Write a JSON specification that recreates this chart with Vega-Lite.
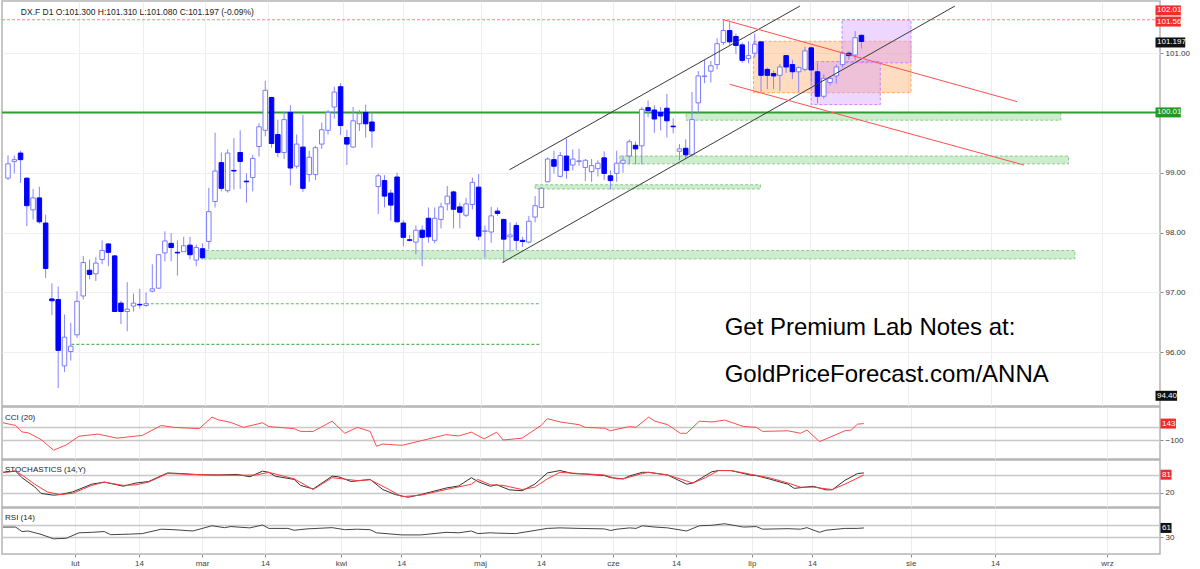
{
 "$schema": "https://vega.github.io/schema/vega-lite/v6.json",
 "padding": 0,
 "background": "white",
 "spacing": 1,
 "bounds": "flush",
 "config": {
  "view": {"stroke": "#b4b4b4", "strokeWidth": 1.5},
  "font": "Liberation Sans",
  "axis": {"labelFont": "Liberation Sans", "labelFontSize": 8, "labelColor": "#333333", "tickColor": "#888888", "tickSize": 3, "domain": false, "title": null}
 },
 "datasets": {
  "candles": [
   {"k":0,"o":98.91,"h":99.29,"l":98.88,"c":99.15},{"k":1,"o":99.19,"h":99.29,"l":98.99,"c":99.22},{"k":2,"o":99.33,"h":99.37,"l":98.83,"c":99.22},{"k":3,"o":98.91,"h":98.92,"l":98.11,"c":98.45},{"k":4,"o":98.38,"h":98.73,"l":98.22,"c":98.58},{"k":5,"o":98.58,"h":98.77,"l":98.15,"c":98.18},{"k":6,"o":98.16,"h":98.30,"l":97.24,"c":97.40},{"k":7,"o":96.89,"h":97.15,"l":96.62,"c":96.86},{"k":8,"o":96.88,"h":97.10,"l":95.40,"c":96.03},{"k":9,"o":95.77,"h":96.63,"l":95.67,"c":96.25},
   {"k":10,"o":96.01,"h":96.49,"l":95.86,"c":96.10},{"k":11,"o":96.29,"h":97.02,"l":96.24,"c":96.85},{"k":12,"o":96.94,"h":97.61,"l":96.88,"c":97.50},{"k":13,"o":97.37,"h":97.55,"l":97.22,"c":97.30},{"k":14,"o":97.31,"h":97.59,"l":97.19,"c":97.49},{"k":15,"o":97.55,"h":97.87,"l":97.47,"c":97.70},{"k":16,"o":97.81,"h":97.82,"l":97.44,"c":97.67},{"k":17,"o":97.61,"h":97.62,"l":96.67,"c":96.68},{"k":18,"o":96.82,"h":96.86,"l":96.47,"c":96.68},{"k":19,"o":96.68,"h":97.17,"l":96.35,"c":96.72},
   {"k":20,"o":96.77,"h":96.98,"l":96.68,"c":96.82},{"k":21,"o":96.80,"h":97.06,"l":96.73,"c":96.79},{"k":22,"o":96.78,"h":97.00,"l":96.76,"c":96.81},{"k":23,"o":97.02,"h":97.47,"l":97.00,"c":97.06},{"k":24,"o":97.07,"h":97.63,"l":97.06,"c":97.63},{"k":25,"o":97.66,"h":98.02,"l":97.52,"c":97.86},{"k":26,"o":97.82,"h":97.99,"l":97.52,"c":97.75},{"k":27,"o":97.67,"h":97.87,"l":97.28,"c":97.66},{"k":28,"o":97.68,"h":97.93,"l":97.68,"c":97.78},{"k":29,"o":97.79,"h":97.93,"l":97.55,"c":97.63},
   {"k":30,"o":97.54,"h":97.80,"l":97.44,"c":97.75},{"k":31,"o":97.73,"h":97.82,"l":97.55,"c":97.58},{"k":32,"o":97.85,"h":98.75,"l":97.72,"c":98.35},{"k":33,"o":98.52,"h":99.67,"l":98.42,"c":99.03},{"k":34,"o":99.17,"h":99.34,"l":98.69,"c":98.74},{"k":35,"o":98.70,"h":99.39,"l":98.67,"c":99.33},{"k":36,"o":99.04,"h":99.58,"l":98.72,"c":99.03},{"k":37,"o":99.34,"h":99.71,"l":98.73,"c":99.19},{"k":38,"o":98.86,"h":98.99,"l":98.50,"c":98.85},{"k":39,"o":98.92,"h":99.30,"l":98.69,"c":99.24},
   {"k":40,"o":99.44,"h":99.83,"l":99.27,"c":99.77},{"k":41,"o":99.71,"h":100.54,"l":99.61,"c":100.38},{"k":42,"o":100.26,"h":100.27,"l":99.42,"c":99.49},{"k":43,"o":99.64,"h":99.89,"l":99.26,"c":99.34},{"k":44,"o":99.34,"h":100.02,"l":99.23,"c":99.89},{"k":45,"o":100.01,"h":100.13,"l":98.79,"c":99.08},{"k":46,"o":99.11,"h":99.64,"l":99.07,"c":99.48},{"k":47,"o":99.43,"h":99.97,"l":98.68,"c":98.74},{"k":48,"o":98.97,"h":99.37,"l":98.85,"c":99.26},{"k":49,"o":98.97,"h":99.45,"l":98.88,"c":99.42},
   {"k":50,"o":99.48,"h":99.84,"l":99.40,"c":99.72},{"k":51,"o":99.71,"h":100.05,"l":99.64,"c":100.01},{"k":52,"o":100.10,"h":100.44,"l":99.91,"c":100.35},{"k":53,"o":100.44,"h":100.50,"l":99.63,"c":99.79},{"k":54,"o":99.59,"h":99.72,"l":99.13,"c":99.48},{"k":55,"o":99.43,"h":100.10,"l":99.42,"c":99.87},{"k":56,"o":99.82,"h":100.05,"l":99.70,"c":99.99},{"k":57,"o":100.01,"h":100.14,"l":99.59,"c":99.82},{"k":58,"o":99.85,"h":100.01,"l":99.42,"c":99.70},{"k":59,"o":98.77,"h":98.99,"l":98.31,"c":98.95},
   {"k":60,"o":98.87,"h":98.96,"l":98.42,"c":98.61},{"k":61,"o":98.66,"h":98.72,"l":98.20,"c":98.46},{"k":62,"o":98.93,"h":99.00,"l":98.17,"c":98.18},{"k":63,"o":98.16,"h":98.21,"l":97.77,"c":97.92},{"k":64,"o":97.88,"h":97.96,"l":97.85,"c":97.87},{"k":65,"o":97.84,"h":98.12,"l":97.64,"c":98.04},{"k":66,"o":98.04,"h":98.12,"l":97.44,"c":97.92},{"k":67,"o":98.24,"h":98.42,"l":97.83,"c":97.93},{"k":68,"o":97.87,"h":98.42,"l":97.82,"c":98.24},{"k":69,"o":98.22,"h":98.50,"l":98.07,"c":98.43},
   {"k":70,"o":98.48,"h":98.78,"l":98.37,"c":98.61},{"k":71,"o":98.68,"h":98.70,"l":98.07,"c":98.39},{"k":72,"o":98.43,"h":98.50,"l":98.07,"c":98.34},{"k":73,"o":98.29,"h":98.58,"l":98.26,"c":98.48},{"k":74,"o":98.47,"h":98.92,"l":98.39,"c":98.84},{"k":75,"o":98.76,"h":98.98,"l":97.87,"c":97.94},{"k":76,"o":98.02,"h":98.12,"l":97.58,"c":98.03},{"k":77,"o":98.01,"h":98.43,"l":97.83,"c":98.28},{"k":78,"o":98.36,"h":98.42,"l":98.28,"c":98.32},{"k":79,"o":98.22,"h":98.23,"l":97.49,"c":97.89},
   {"k":80,"o":97.93,"h":98.17,"l":97.68,"c":97.96},{"k":81,"o":98.12,"h":98.17,"l":97.71,"c":97.87},{"k":82,"o":97.87,"h":97.93,"l":97.76,"c":97.85},{"k":83,"o":97.84,"h":98.28,"l":97.82,"c":98.19},{"k":84,"o":98.26,"h":98.61,"l":98.17,"c":98.45},{"k":85,"o":98.42,"h":98.76,"l":98.41,"c":98.74},{"k":86,"o":98.85,"h":99.26,"l":98.84,"c":99.23},{"k":87,"o":99.22,"h":99.37,"l":98.99,"c":99.11},{"k":88,"o":98.94,"h":99.35,"l":98.92,"c":99.29},{"k":89,"o":99.28,"h":99.57,"l":98.90,"c":99.04},
   {"k":90,"o":99.13,"h":99.39,"l":99.04,"c":99.23},{"k":91,"o":99.19,"h":99.40,"l":99.12,"c":99.20},{"k":92,"o":99.09,"h":99.23,"l":98.86,"c":99.21},{"k":93,"o":99.02,"h":99.23,"l":98.85,"c":99.12},{"k":94,"o":99.07,"h":99.21,"l":98.94,"c":99.16},{"k":95,"o":99.25,"h":99.36,"l":98.88,"c":98.99},{"k":96,"o":98.95,"h":99.04,"l":98.72,"c":98.87},{"k":97,"o":98.99,"h":99.37,"l":98.85,"c":99.16},{"k":98,"o":99.16,"h":99.29,"l":99.00,"c":99.21},{"k":99,"o":99.28,"h":99.56,"l":99.14,"c":99.52},
   {"k":100,"o":99.46,"h":99.52,"l":99.14,"c":99.40},{"k":101,"o":99.45,"h":100.10,"l":99.14,"c":100.06},{"k":102,"o":100.09,"h":100.21,"l":99.93,"c":100.04},{"k":103,"o":100.05,"h":100.13,"l":99.67,"c":99.90},{"k":104,"o":100.01,"h":100.10,"l":99.71,"c":99.95},{"k":105,"o":100.08,"h":100.32,"l":99.59,"c":99.87},{"k":106,"o":99.78,"h":99.91,"l":99.66,"c":99.77},{"k":107,"o":99.36,"h":99.48,"l":99.21,"c":99.40},{"k":108,"o":99.41,"h":99.56,"l":99.23,"c":99.30},{"k":109,"o":99.30,"h":100.35,"l":99.29,"c":99.89},
   {"k":110,"o":100.17,"h":100.70,"l":99.99,"c":100.62},{"k":111,"o":100.61,"h":100.89,"l":100.50,"c":100.62},{"k":112,"o":100.70,"h":100.87,"l":100.51,"c":100.79},{"k":113,"o":100.81,"h":101.25,"l":100.73,"c":101.16},{"k":114,"o":101.18,"h":101.56,"l":101.14,"c":101.38},{"k":115,"o":101.38,"h":101.52,"l":101.14,"c":101.19},{"k":116,"o":101.28,"h":101.33,"l":100.99,"c":101.13},{"k":117,"o":101.14,"h":101.18,"l":100.84,"c":100.88},{"k":118,"o":100.91,"h":101.20,"l":100.83,"c":100.96},{"k":119,"o":101.00,"h":101.33,"l":100.93,"c":101.15},
   {"k":120,"o":101.19,"h":101.20,"l":100.35,"c":100.63},{"k":121,"o":100.73,"h":100.76,"l":100.40,"c":100.63},{"k":122,"o":100.66,"h":100.71,"l":100.40,"c":100.62},{"k":123,"o":100.63,"h":100.82,"l":100.37,"c":100.77},{"k":124,"o":100.96,"h":100.97,"l":100.67,"c":100.77},{"k":125,"o":100.81,"h":100.89,"l":100.57,"c":100.69},{"k":126,"o":100.69,"h":100.78,"l":100.35,"c":100.76},{"k":127,"o":100.73,"h":101.11,"l":100.70,"c":101.04},{"k":128,"o":101.09,"h":101.11,"l":100.51,"c":100.72},{"k":129,"o":100.69,"h":100.84,"l":100.16,"c":100.28},
   {"k":130,"o":100.28,"h":100.65,"l":100.24,"c":100.58},{"k":131,"o":100.51,"h":100.62,"l":100.46,"c":100.58},{"k":132,"o":100.62,"h":100.81,"l":100.49,"c":100.77},{"k":133,"o":100.81,"h":101.03,"l":100.76,"c":101.00},{"k":134,"o":101.00,"h":101.03,"l":100.89,"c":100.96},{"k":135,"o":100.97,"h":101.37,"l":100.88,"c":101.26},{"k":136,"o":101.30,"h":101.31,"l":101.08,"c":101.197}
  ],
  "zones": [
   {"start":108.06,"end":167.77,"top":100.01,"bottom":99.88},
   {"start":97.5,"end":169.0,"top":99.28,"bottom":99.15},
   {"start":84.0,"end":119.9,"top":98.80,"bottom":98.73},
   {"start":30.8,"end":170.0,"top":97.70,"bottom":97.56}
  ],
  "glines": [
   {"start":21.96,"end":84.8,"p":96.81},
   {"start":10.1,"end":84.8,"p":96.13}
  ],
  "orange": [{"start":118.8,"end":143.9,"top":101.20,"bottom":100.34}],
  "purple": [
   {"start":132.9,"end":143.9,"top":101.56,"bottom":100.84},
   {"start":128.0,"end":139.0,"top":100.86,"bottom":100.14}
  ],
  "blines": [
   {"id":"b1","k":79.9,"p":99.05},{"id":"b1","k":126.2,"p":101.79},
   {"id":"b2","k":78.8,"p":97.50},{"id":"b2","k":150.9,"p":101.79}
  ],
  "rlines": [
   {"id":"r1","k":114.06,"p":101.56},{"id":"r1","k":160.8,"p":100.19},
   {"id":"r2","k":115.0,"p":100.48},{"id":"r2","k":161.9,"p":99.13}
  ],
  "cci": [
   {"k":0,"v":155},{"k":2,"v":115},{"k":3,"v":21},{"k":4,"v":9},{"k":6,"v":-88},{"k":8,"v":-245},{"k":10,"v":-167},{"k":12,"v":-41},{"k":15,"v":-10},{"k":18,"v":-69},{"k":22,"v":-29},{"k":25,"v":115},{"k":27,"v":88},{"k":31,"v":69},{"k":33,"v":237},{"k":34,"v":198},{"k":36,"v":159},{"k":38,"v":88},{"k":41,"v":155},{"k":42,"v":100},{"k":46,"v":69},{"k":47,"v":29},{"k":49,"v":29},{"k":52,"v":178},{"k":54,"v":2},{"k":56,"v":88},{"k":58,"v":29},{"k":59,"v":-186},{"k":60,"v":-155},{"k":63,"v":-174},{"k":66,"v":-108},{"k":70,"v":-18},{"k":72,"v":-37},{"k":74,"v":18},{"k":76,"v":-80},{"k":78,"v":18},{"k":79,"v":-96},{"k":82,"v":-69},{"k":85,"v":115},{"k":86,"v":214},{"k":88,"v":167},{"k":91,"v":127},{"k":92,"v":88},{"k":95,"v":76},{"k":96,"v":38},{"k":97,"v":61},{"k":99,"v":100},{"k":100,"v":88},{"k":102,"v":237},{"k":103,"v":178},{"k":105,"v":127},{"k":107,"v":2},{"k":108,"v":2},{"k":110,"v":178},{"k":112,"v":167},{"k":114,"v":194},{"k":117,"v":100},{"k":119,"v":88},{"k":120,"v":29},{"k":124,"v":38},{"k":126,"v":2},{"k":127,"v":49},{"k":129,"v":-120},{"k":131,"v":-41},{"k":133,"v":38},{"k":134,"v":49},{"k":135,"v":135},{"k":136,"v":143}
  ],
  "stk": [
   {"k":0,"v":89},{"k":2,"v":93},{"k":3,"v":71},{"k":5,"v":40},{"k":6,"v":18},{"k":8,"v":12},{"k":9,"v":14},{"k":11,"v":23},{"k":14,"v":49},{"k":16,"v":56},{"k":18,"v":47},{"k":19,"v":42},{"k":21,"v":53},{"k":23,"v":58},{"k":26,"v":87},{"k":28,"v":85},{"k":31,"v":81},{"k":34,"v":80},{"k":37,"v":82},{"k":39,"v":74},{"k":41,"v":93},{"k":42,"v":89},{"k":43,"v":76},{"k":46,"v":65},{"k":47,"v":45},{"k":49,"v":33},{"k":52,"v":76},{"k":53,"v":74},{"k":55,"v":58},{"k":58,"v":65},{"k":60,"v":31},{"k":62,"v":14},{"k":64,"v":5},{"k":66,"v":14},{"k":70,"v":36},{"k":72,"v":43},{"k":74,"v":71},{"k":75,"v":58},{"k":77,"v":42},{"k":78,"v":47},{"k":80,"v":30},{"k":82,"v":27},{"k":84,"v":49},{"k":86,"v":87},{"k":88,"v":95},{"k":90,"v":85},{"k":92,"v":83},{"k":95,"v":78},{"k":96,"v":71},{"k":98,"v":67},{"k":99,"v":77},{"k":101,"v":89},{"k":102,"v":89},{"k":105,"v":80},{"k":108,"v":49},{"k":109,"v":53},{"k":112,"v":91},{"k":113,"v":95},{"k":115,"v":95},{"k":118,"v":80},{"k":119,"v":78},{"k":121,"v":67},{"k":124,"v":49},{"k":125,"v":35},{"k":128,"v":42},{"k":130,"v":30},{"k":131,"v":30},{"k":133,"v":62},{"k":135,"v":85},{"k":136,"v":87}
  ],
  "std": [
   {"k":0,"v":89},{"k":2,"v":93},{"k":3,"v":80},{"k":5,"v":49},{"k":7,"v":23},{"k":9,"v":14},{"k":11,"v":18},{"k":14,"v":45},{"k":16,"v":56},{"k":19,"v":45},{"k":21,"v":47},{"k":23,"v":56},{"k":26,"v":85},{"k":31,"v":81},{"k":37,"v":79},{"k":40,"v":80},{"k":42,"v":89},{"k":46,"v":67},{"k":49,"v":31},{"k":52,"v":71},{"k":56,"v":61},{"k":58,"v":64},{"k":61,"v":31},{"k":63,"v":7},{"k":66,"v":12},{"k":70,"v":31},{"k":74,"v":49},{"k":75,"v":65},{"k":77,"v":47},{"k":79,"v":45},{"k":82,"v":31},{"k":84,"v":39},{"k":86,"v":67},{"k":88,"v":89},{"k":91,"v":85},{"k":95,"v":80},{"k":97,"v":67},{"k":98,"v":67},{"k":101,"v":85},{"k":102,"v":89},{"k":105,"v":80},{"k":109,"v":53},{"k":111,"v":71},{"k":113,"v":95},{"k":115,"v":95},{"k":118,"v":83},{"k":121,"v":71},{"k":124,"v":53},{"k":126,"v":39},{"k":128,"v":39},{"k":131,"v":31},{"k":133,"v":49},{"k":136,"v":80}
  ],
  "rsi": [
   {"k":0,"v":63.9},{"k":2,"v":63.9},{"k":3,"v":48.7},{"k":4,"v":50.5},{"k":6,"v":39},{"k":8,"v":23.9},{"k":10,"v":25.7},{"k":12,"v":44.4},{"k":14,"v":46},{"k":16,"v":48.7},{"k":17,"v":38},{"k":20,"v":39.9},{"k":22,"v":41.7},{"k":25,"v":56.7},{"k":27,"v":55},{"k":30,"v":50.5},{"k":33,"v":68.4},{"k":35,"v":62},{"k":36,"v":65.7},{"k":39,"v":61.2},{"k":41,"v":71},{"k":42,"v":59.4},{"k":45,"v":59.4},{"k":46,"v":53.1},{"k":48,"v":57.7},{"k":52,"v":62},{"k":54,"v":55},{"k":56,"v":56.7},{"k":58,"v":55},{"k":59,"v":44.4},{"k":63,"v":37.2},{"k":66,"v":37.2},{"k":70,"v":46},{"k":72,"v":44.4},{"k":74,"v":50.5},{"k":75,"v":41.7},{"k":77,"v":44.4},{"k":78,"v":43.3},{"k":81,"v":41.7},{"k":86,"v":59.4},{"k":88,"v":61.2},{"k":91,"v":59.4},{"k":95,"v":57.7},{"k":96,"v":52.4},{"k":97,"v":56.7},{"k":99,"v":61.2},{"k":100,"v":59.4},{"k":101,"v":68.4},{"k":103,"v":64},{"k":105,"v":61.2},{"k":108,"v":50.5},{"k":110,"v":68.4},{"k":112,"v":70},{"k":114,"v":75.3},{"k":117,"v":63.9},{"k":119,"v":65.7},{"k":120,"v":56.7},{"k":124,"v":58.5},{"k":126,"v":56.7},{"k":127,"v":62},{"k":129,"v":46},{"k":130,"v":53.1},{"k":133,"v":59.4},{"k":135,"v":59.4},{"k":136,"v":61}
  ]
 },
 "vconcat": [
  {
   "width": 1158,
   "height": 405,
   "layer": [
    {
     "data": {"name": "zones"},
     "mark": {"type": "rect", "fill": "#c9eac9", "fillOpacity": 0.9, "stroke": "#8bcb8b", "strokeDash": [3, 2], "strokeWidth": 1},
     "encoding": {
      "x": {"field": "start", "type": "quantitative", "scale": {"domain": [-0.158, 182.78], "nice": false, "zero": false}, "axis": {"values": [11.37,21.48,31.44,41.39,53.4,62.9,75.36,85.0,96.37,106.3,118.3,127.8,143.4,156.7,174.4], "grid": true, "gridColor": "#ededed", "labels": false, "ticks": false, "domain": false, "minExtent": 0, "maxExtent": 0}},
      "x2": {"field": "end"},
      "y": {"field": "top", "type": "quantitative", "scale": {"domain": [95.183, 101.79], "nice": false, "zero": false}, "axis": {"orient": "right", "values": [96, 97, 98, 99, 101], "format": ".2f", "grid": true, "gridColor": "#efefef", "tickSize": 3, "labelPadding": 2}},
      "y2": {"field": "bottom"}
     }
    },
    {
     "data": {"name": "glines"},
     "mark": {"type": "rule", "color": "#5cb85c", "strokeDash": [3, 2], "strokeWidth": 1.2},
     "encoding": {
      "x": {"field": "start", "type": "quantitative", "scale": {"domain": [-0.158, 182.78], "nice": false, "zero": false}, "axis": {"values": [11.37,21.48,31.44,41.39,53.4,62.9,75.36,85.0,96.37,106.3,118.3,127.8,143.4,156.7,174.4], "grid": true, "gridColor": "#ededed", "labels": false, "ticks": false, "domain": false, "minExtent": 0, "maxExtent": 0}},
      "x2": {"field": "end"},
      "y": {"field": "p", "type": "quantitative", "scale": {"domain": [95.183, 101.79], "nice": false, "zero": false}, "axis": {"orient": "right", "values": [96, 97, 98, 99, 101], "format": ".2f", "grid": true, "gridColor": "#efefef", "tickSize": 3, "labelPadding": 2}}
     }
    },
    {
     "data": {"name": "orange"},
     "mark": {"type": "rect", "fill": "#ffb070", "fillOpacity": 0.45, "stroke": "#ff9a40", "strokeDash": [3, 2], "strokeWidth": 1, "strokeOpacity": 0.8},
     "encoding": {
      "x": {"field": "start", "type": "quantitative", "scale": {"domain": [-0.158, 182.78], "nice": false, "zero": false}, "axis": {"values": [11.37,21.48,31.44,41.39,53.4,62.9,75.36,85.0,96.37,106.3,118.3,127.8,143.4,156.7,174.4], "grid": true, "gridColor": "#ededed", "labels": false, "ticks": false, "domain": false, "minExtent": 0, "maxExtent": 0}},
      "x2": {"field": "end"},
      "y": {"field": "top", "type": "quantitative", "scale": {"domain": [95.183, 101.79], "nice": false, "zero": false}, "axis": {"orient": "right", "values": [96, 97, 98, 99, 101], "format": ".2f", "grid": true, "gridColor": "#efefef", "tickSize": 3, "labelPadding": 2}},
      "y2": {"field": "bottom"}
     }
    },
    {
     "data": {"name": "purple"},
     "mark": {"type": "rect", "fill": "#d49cff", "fillOpacity": 0.4, "stroke": "#b870ff", "strokeDash": [3, 2], "strokeWidth": 1, "strokeOpacity": 0.8},
     "encoding": {
      "x": {"field": "start", "type": "quantitative", "scale": {"domain": [-0.158, 182.78], "nice": false, "zero": false}, "axis": {"values": [11.37,21.48,31.44,41.39,53.4,62.9,75.36,85.0,96.37,106.3,118.3,127.8,143.4,156.7,174.4], "grid": true, "gridColor": "#ededed", "labels": false, "ticks": false, "domain": false, "minExtent": 0, "maxExtent": 0}},
      "x2": {"field": "end"},
      "y": {"field": "top", "type": "quantitative", "scale": {"domain": [95.183, 101.79], "nice": false, "zero": false}, "axis": {"orient": "right", "values": [96, 97, 98, 99, 101], "format": ".2f", "grid": true, "gridColor": "#efefef", "tickSize": 3, "labelPadding": 2}},
      "y2": {"field": "bottom"}
     }
    },
    {
     "data": {"values": [{"p": 101.56}]},
     "mark": {"type": "rule", "color": "#ff8080", "strokeDash": [3, 2], "strokeWidth": 1},
     "encoding": {"y": {"field": "p", "type": "quantitative", "scale": {"domain": [95.183, 101.79], "nice": false, "zero": false}, "axis": {"orient": "right", "values": [96, 97, 98, 99, 101], "format": ".2f", "grid": true, "gridColor": "#efefef", "tickSize": 3, "labelPadding": 2}}}
    },
    {
     "data": {"values": [{"p": 100.01}]},
     "mark": {"type": "rule", "color": "#2e9e2e", "strokeWidth": 2},
     "encoding": {"y": {"field": "p", "type": "quantitative", "scale": {"domain": [95.183, 101.79], "nice": false, "zero": false}, "axis": {"orient": "right", "values": [96, 97, 98, 99, 101], "format": ".2f", "grid": true, "gridColor": "#efefef", "tickSize": 3, "labelPadding": 2}}}
    },
    {
     "data": {"name": "candles"},
     "mark": {"type": "rule", "color": "#8585ff", "strokeWidth": 1},
     "encoding": {
      "x": {"field": "k", "type": "quantitative", "scale": {"domain": [-0.158, 182.78], "nice": false, "zero": false}, "axis": {"values": [11.37,21.48,31.44,41.39,53.4,62.9,75.36,85.0,96.37,106.3,118.3,127.8,143.4,156.7,174.4], "grid": true, "gridColor": "#ededed", "labels": false, "ticks": false, "domain": false, "minExtent": 0, "maxExtent": 0}},
      "y": {"field": "l", "type": "quantitative", "scale": {"domain": [95.183, 101.79], "nice": false, "zero": false}, "axis": {"orient": "right", "values": [96, 97, 98, 99, 101], "format": ".2f", "grid": true, "gridColor": "#efefef", "tickSize": 3, "labelPadding": 2}},
      "y2": {"field": "h"}
     }
    },
    {
     "data": {"name": "candles"},
     "mark": {"type": "bar", "size": 4.5, "strokeWidth": 1},
     "encoding": {
      "x": {"field": "k", "type": "quantitative", "scale": {"domain": [-0.158, 182.78], "nice": false, "zero": false}, "axis": {"values": [11.37,21.48,31.44,41.39,53.4,62.9,75.36,85.0,96.37,106.3,118.3,127.8,143.4,156.7,174.4], "grid": true, "gridColor": "#ededed", "labels": false, "ticks": false, "domain": false, "minExtent": 0, "maxExtent": 0}},
      "y": {"field": "o", "type": "quantitative", "scale": {"domain": [95.183, 101.79], "nice": false, "zero": false}, "axis": {"orient": "right", "values": [96, 97, 98, 99, 101], "format": ".2f", "grid": true, "gridColor": "#efefef", "tickSize": 3, "labelPadding": 2}},
      "y2": {"field": "c"},
      "fill": {"condition": {"test": "datum.c < datum.o", "value": "#0000ff"}, "value": "#ffffff"},
      "stroke": {"condition": {"test": "datum.c < datum.o", "value": "#0000ff"}, "value": "#7b7bff"}
     }
    },
    {
     "data": {"name": "blines"},
     "mark": {"type": "line", "color": "#3a3a3a", "strokeWidth": 1, "clip": true},
     "encoding": {
      "x": {"field": "k", "type": "quantitative", "scale": {"domain": [-0.158, 182.78], "nice": false, "zero": false}, "axis": {"values": [11.37,21.48,31.44,41.39,53.4,62.9,75.36,85.0,96.37,106.3,118.3,127.8,143.4,156.7,174.4], "grid": true, "gridColor": "#ededed", "labels": false, "ticks": false, "domain": false, "minExtent": 0, "maxExtent": 0}},
      "y": {"field": "p", "type": "quantitative", "scale": {"domain": [95.183, 101.79], "nice": false, "zero": false}, "axis": {"orient": "right", "values": [96, 97, 98, 99, 101], "format": ".2f", "grid": true, "gridColor": "#efefef", "tickSize": 3, "labelPadding": 2}},
      "detail": {"field": "id"}
     }
    },
    {
     "data": {"name": "rlines"},
     "mark": {"type": "line", "color": "#ff5050", "strokeWidth": 1, "clip": true},
     "encoding": {
      "x": {"field": "k", "type": "quantitative", "scale": {"domain": [-0.158, 182.78], "nice": false, "zero": false}, "axis": {"values": [11.37,21.48,31.44,41.39,53.4,62.9,75.36,85.0,96.37,106.3,118.3,127.8,143.4,156.7,174.4], "grid": true, "gridColor": "#ededed", "labels": false, "ticks": false, "domain": false, "minExtent": 0, "maxExtent": 0}},
      "y": {"field": "p", "type": "quantitative", "scale": {"domain": [95.183, 101.79], "nice": false, "zero": false}, "axis": {"orient": "right", "values": [96, 97, 98, 99, 101], "format": ".2f", "grid": true, "gridColor": "#efefef", "tickSize": 3, "labelPadding": 2}},
      "detail": {"field": "id"}
     }
    },
    {
     "data": {"values": [
      {"k": 2.05, "p": 101.69, "t": "DX.F  D1  O:101.300  H:101.310  L:101.080  C:101.197  (-0.09%)"}
     ]},
     "mark": {"type": "text", "align": "left", "baseline": "middle", "fontSize": 8.5, "color": "#222222"},
     "encoding": {
      "x": {"field": "k", "type": "quantitative", "scale": {"domain": [-0.158, 182.78], "nice": false, "zero": false}, "axis": {"values": [11.37,21.48,31.44,41.39,53.4,62.9,75.36,85.0,96.37,106.3,118.3,127.8,143.4,156.7,174.4], "grid": true, "gridColor": "#ededed", "labels": false, "ticks": false, "domain": false, "minExtent": 0, "maxExtent": 0}},
      "y": {"field": "p", "type": "quantitative", "scale": {"domain": [95.183, 101.79], "nice": false, "zero": false}, "axis": {"orient": "right", "values": [96, 97, 98, 99, 101], "format": ".2f", "grid": true, "gridColor": "#efefef", "tickSize": 3, "labelPadding": 2}},
      "text": {"field": "t"}
     }
    },
    {
     "data": {"values": [
      {"k": 114.2, "p": 96.406, "t": "Get Premium Lab Notes at:"},
      {"k": 114.2, "p": 95.62, "t": "GoldPriceForecast.com/ANNA"}
     ]},
     "mark": {"type": "text", "align": "left", "baseline": "middle", "fontSize": 24, "color": "#000000"},
     "encoding": {
      "x": {"field": "k", "type": "quantitative", "scale": {"domain": [-0.158, 182.78], "nice": false, "zero": false}, "axis": {"values": [11.37,21.48,31.44,41.39,53.4,62.9,75.36,85.0,96.37,106.3,118.3,127.8,143.4,156.7,174.4], "grid": true, "gridColor": "#ededed", "labels": false, "ticks": false, "domain": false, "minExtent": 0, "maxExtent": 0}},
      "y": {"field": "p", "type": "quantitative", "scale": {"domain": [95.183, 101.79], "nice": false, "zero": false}, "axis": {"orient": "right", "values": [96, 97, 98, 99, 101], "format": ".2f", "grid": true, "gridColor": "#efefef", "tickSize": 3, "labelPadding": 2}},
      "text": {"field": "t"}
     }
    },
    {
     "data": {"values": [
      {"p": 101.716, "label": "102.01", "kind": "red", "s": 182.86, "e": 186.9},
      {"p": 101.53, "label": "101.56", "kind": "red", "s": 182.86, "e": 186.9},
      {"p": 101.18, "label": "101.197", "kind": "black", "s": 182.86, "e": 187.6},
      {"p": 100.01, "label": "100.01", "kind": "green", "s": 182.86, "e": 186.9},
      {"p": 95.27, "label": "94.40", "kind": "black", "s": 182.86, "e": 186.3}
     ]},
     "mark": {"type": "bar", "orient": "horizontal", "size": 10},
     "encoding": {
      "x": {"field": "s", "type": "quantitative", "scale": {"domain": [-0.158, 182.78], "nice": false, "zero": false}, "axis": {"values": [11.37,21.48,31.44,41.39,53.4,62.9,75.36,85.0,96.37,106.3,118.3,127.8,143.4,156.7,174.4], "grid": true, "gridColor": "#ededed", "labels": false, "ticks": false, "domain": false, "minExtent": 0, "maxExtent": 0}},
      "x2": {"field": "e"},
      "y": {"field": "p", "type": "quantitative", "scale": {"domain": [95.183, 101.79], "nice": false, "zero": false}, "axis": {"orient": "right", "values": [96, 97, 98, 99, 101], "format": ".2f", "grid": true, "gridColor": "#efefef", "tickSize": 3, "labelPadding": 2}},
      "color": {"field": "kind", "type": "nominal", "scale": {"domain": ["red", "black", "green"], "range": ["#f22b2b", "#111111", "#1f9a1f"]}, "legend": null}
     }
    },
    {
     "data": {"values": [
      {"p": 101.716, "label": "102.01", "s": 182.86},
      {"p": 101.53, "label": "101.56", "s": 182.86},
      {"p": 101.18, "label": "101.197", "s": 182.86},
      {"p": 100.01, "label": "100.01", "s": 182.86},
      {"p": 95.27, "label": "94.40", "s": 182.86}
     ]},
     "mark": {"type": "text", "align": "left", "baseline": "middle", "fontSize": 8, "color": "#ffffff", "dx": 1.5},
     "encoding": {
      "x": {"field": "s", "type": "quantitative", "scale": {"domain": [-0.158, 182.78], "nice": false, "zero": false}, "axis": {"values": [11.37,21.48,31.44,41.39,53.4,62.9,75.36,85.0,96.37,106.3,118.3,127.8,143.4,156.7,174.4], "grid": true, "gridColor": "#ededed", "labels": false, "ticks": false, "domain": false, "minExtent": 0, "maxExtent": 0}},
      "y": {"field": "p", "type": "quantitative", "scale": {"domain": [95.183, 101.79], "nice": false, "zero": false}, "axis": {"orient": "right", "values": [96, 97, 98, 99, 101], "format": ".2f", "grid": true, "gridColor": "#efefef", "tickSize": 3, "labelPadding": 2}},
      "text": {"field": "label"}
     }
    }
   ]
  },
  {
   "width": 1158,
   "height": 52,
   "layer": [
    {
     "data": {"name": "cci"},
     "mark": {"type": "line", "color": "#ff4d4d", "strokeWidth": 1},
     "encoding": {
      "x": {"field": "k", "type": "quantitative", "scale": {"domain": [-0.158, 182.78], "nice": false, "zero": false}, "axis": {"values": [11.37,21.48,31.44,41.39,53.4,62.9,75.36,85.0,96.37,106.3,118.3,127.8,143.4,156.7,174.4], "grid": true, "gridColor": "#ededed", "labels": false, "ticks": false, "domain": false, "minExtent": 0, "maxExtent": 0}},
      "y": {"field": "v", "type": "quantitative", "scale": {"domain": [-300, 311.8], "nice": false, "zero": false}, "axis": {"orient": "right", "values": [-100, 100], "format": "d", "labelExpr": "datum.value > 0 ? '' : datum.label", "grid": true, "gridColor": "#c8c8c8", "gridWidth": 1.5, "tickSize": 3, "labelPadding": 2}}
     }
    },
    {
     "data": {"values": [
      {"k": 0.32, "v": 229, "t": "CCI (20)"}
     ]},
     "mark": {"type": "text", "align": "left", "baseline": "middle", "fontSize": 8, "color": "#222222"},
     "encoding": {
      "x": {"field": "k", "type": "quantitative", "scale": {"domain": [-0.158, 182.78], "nice": false, "zero": false}, "axis": {"values": [11.37,21.48,31.44,41.39,53.4,62.9,75.36,85.0,96.37,106.3,118.3,127.8,143.4,156.7,174.4], "grid": true, "gridColor": "#ededed", "labels": false, "ticks": false, "domain": false, "minExtent": 0, "maxExtent": 0}},
      "y": {"field": "v", "type": "quantitative", "scale": {"domain": [-300, 311.8], "nice": false, "zero": false}, "axis": {"orient": "right", "values": [-100, 100], "format": "d", "labelExpr": "datum.value > 0 ? '' : datum.label", "grid": true, "gridColor": "#c8c8c8", "gridWidth": 1.5, "tickSize": 3, "labelPadding": 2}},
      "text": {"field": "t"}
     }
    },
    {
     "data": {"values": [{"v": 143, "label": "143", "s": 182.86, "e": 185.3}]},
     "mark": {"type": "bar", "orient": "horizontal", "size": 10, "color": "#f22b2b"},
     "encoding": {
      "x": {"field": "s", "type": "quantitative", "scale": {"domain": [-0.158, 182.78], "nice": false, "zero": false}, "axis": {"values": [11.37,21.48,31.44,41.39,53.4,62.9,75.36,85.0,96.37,106.3,118.3,127.8,143.4,156.7,174.4], "grid": true, "gridColor": "#ededed", "labels": false, "ticks": false, "domain": false, "minExtent": 0, "maxExtent": 0}},
      "x2": {"field": "e"},
      "y": {"field": "v", "type": "quantitative", "scale": {"domain": [-300, 311.8], "nice": false, "zero": false}, "axis": {"orient": "right", "values": [-100, 100], "format": "d", "labelExpr": "datum.value > 0 ? '' : datum.label", "grid": true, "gridColor": "#c8c8c8", "gridWidth": 1.5, "tickSize": 3, "labelPadding": 2}}
     }
    },
    {
     "data": {"values": [{"v": 143, "label": "143", "s": 182.86}]},
     "mark": {"type": "text", "align": "left", "baseline": "middle", "fontSize": 8, "color": "#ffffff", "dx": 1.5},
     "encoding": {
      "x": {"field": "s", "type": "quantitative", "scale": {"domain": [-0.158, 182.78], "nice": false, "zero": false}, "axis": {"values": [11.37,21.48,31.44,41.39,53.4,62.9,75.36,85.0,96.37,106.3,118.3,127.8,143.4,156.7,174.4], "grid": true, "gridColor": "#ededed", "labels": false, "ticks": false, "domain": false, "minExtent": 0, "maxExtent": 0}},
      "y": {"field": "v", "type": "quantitative", "scale": {"domain": [-300, 311.8], "nice": false, "zero": false}, "axis": {"orient": "right", "values": [-100, 100], "format": "d", "labelExpr": "datum.value > 0 ? '' : datum.label", "grid": true, "gridColor": "#c8c8c8", "gridWidth": 1.5, "tickSize": 3, "labelPadding": 2}},
      "text": {"field": "label"}
     }
    }
   ]
  },
  {
   "width": 1158,
   "height": 47,
   "layer": [
    {
     "data": {"name": "stk"},
     "mark": {"type": "line", "color": "#333333", "strokeWidth": 1},
     "encoding": {
      "x": {"field": "k", "type": "quantitative", "scale": {"domain": [-0.158, 182.78], "nice": false, "zero": false}, "axis": {"values": [11.37,21.48,31.44,41.39,53.4,62.9,75.36,85.0,96.37,106.3,118.3,127.8,143.4,156.7,174.4], "grid": true, "gridColor": "#ededed", "labels": false, "ticks": false, "domain": false, "minExtent": 0, "maxExtent": 0}},
      "y": {"field": "v", "type": "quantitative", "scale": {"domain": [-11, 113.7], "nice": false, "zero": false}, "axis": {"orient": "right", "values": [20, 80], "format": "d", "labelExpr": "datum.value > 50 ? '' : datum.label", "grid": true, "gridColor": "#c8c8c8", "gridWidth": 1.5, "tickSize": 3, "labelPadding": 2}}
     }
    },
    {
     "data": {"name": "std"},
     "mark": {"type": "line", "color": "#ff3b3b", "strokeWidth": 1},
     "encoding": {
      "x": {"field": "k", "type": "quantitative", "scale": {"domain": [-0.158, 182.78], "nice": false, "zero": false}, "axis": {"values": [11.37,21.48,31.44,41.39,53.4,62.9,75.36,85.0,96.37,106.3,118.3,127.8,143.4,156.7,174.4], "grid": true, "gridColor": "#ededed", "labels": false, "ticks": false, "domain": false, "minExtent": 0, "maxExtent": 0}},
      "y": {"field": "v", "type": "quantitative", "scale": {"domain": [-11, 113.7], "nice": false, "zero": false}, "axis": {"orient": "right", "values": [20, 80], "format": "d", "labelExpr": "datum.value > 50 ? '' : datum.label", "grid": true, "gridColor": "#c8c8c8", "gridWidth": 1.5, "tickSize": 3, "labelPadding": 2}}
     }
    },
    {
     "data": {"values": [
      {"k": 0.32, "v": 97.8, "t": "STOCHASTICS (14,Y)"}
     ]},
     "mark": {"type": "text", "align": "left", "baseline": "middle", "fontSize": 8, "color": "#222222"},
     "encoding": {
      "x": {"field": "k", "type": "quantitative", "scale": {"domain": [-0.158, 182.78], "nice": false, "zero": false}, "axis": {"values": [11.37,21.48,31.44,41.39,53.4,62.9,75.36,85.0,96.37,106.3,118.3,127.8,143.4,156.7,174.4], "grid": true, "gridColor": "#ededed", "labels": false, "ticks": false, "domain": false, "minExtent": 0, "maxExtent": 0}},
      "y": {"field": "v", "type": "quantitative", "scale": {"domain": [-11, 113.7], "nice": false, "zero": false}, "axis": {"orient": "right", "values": [20, 80], "format": "d", "labelExpr": "datum.value > 50 ? '' : datum.label", "grid": true, "gridColor": "#c8c8c8", "gridWidth": 1.5, "tickSize": 3, "labelPadding": 2}},
      "text": {"field": "t"}
     }
    },
    {
     "data": {"values": [{"v": 81, "label": "81", "s": 182.86, "e": 184.6}]},
     "mark": {"type": "bar", "orient": "horizontal", "size": 10, "color": "#f22b2b"},
     "encoding": {
      "x": {"field": "s", "type": "quantitative", "scale": {"domain": [-0.158, 182.78], "nice": false, "zero": false}, "axis": {"values": [11.37,21.48,31.44,41.39,53.4,62.9,75.36,85.0,96.37,106.3,118.3,127.8,143.4,156.7,174.4], "grid": true, "gridColor": "#ededed", "labels": false, "ticks": false, "domain": false, "minExtent": 0, "maxExtent": 0}},
      "x2": {"field": "e"},
      "y": {"field": "v", "type": "quantitative", "scale": {"domain": [-11, 113.7], "nice": false, "zero": false}, "axis": {"orient": "right", "values": [20, 80], "format": "d", "labelExpr": "datum.value > 50 ? '' : datum.label", "grid": true, "gridColor": "#c8c8c8", "gridWidth": 1.5, "tickSize": 3, "labelPadding": 2}}
     }
    },
    {
     "data": {"values": [{"v": 81, "label": "81", "s": 182.86}]},
     "mark": {"type": "text", "align": "left", "baseline": "middle", "fontSize": 8, "color": "#ffffff", "dx": 1.5},
     "encoding": {
      "x": {"field": "s", "type": "quantitative", "scale": {"domain": [-0.158, 182.78], "nice": false, "zero": false}, "axis": {"values": [11.37,21.48,31.44,41.39,53.4,62.9,75.36,85.0,96.37,106.3,118.3,127.8,143.4,156.7,174.4], "grid": true, "gridColor": "#ededed", "labels": false, "ticks": false, "domain": false, "minExtent": 0, "maxExtent": 0}},
      "y": {"field": "v", "type": "quantitative", "scale": {"domain": [-11, 113.7], "nice": false, "zero": false}, "axis": {"orient": "right", "values": [20, 80], "format": "d", "labelExpr": "datum.value > 50 ? '' : datum.label", "grid": true, "gridColor": "#c8c8c8", "gridWidth": 1.5, "tickSize": 3, "labelPadding": 2}},
      "text": {"field": "label"}
     }
    }
   ]
  },
  {
   "width": 1158,
   "height": 46,
   "layer": [
    {
     "data": {"name": "rsi"},
     "mark": {"type": "line", "color": "#444444", "strokeWidth": 1},
     "encoding": {
      "x": {"field": "k", "type": "quantitative", "scale": {"domain": [-0.158, 182.78], "nice": false, "zero": false}, "axis": {"values": [11.37,21.48,31.44,41.39,53.4,62.9,75.36,85.0,96.37,106.3,118.3,127.8,143.4,156.7,174.4], "grid": true, "gridColor": "#ededed", "ticks": true, "tickSize": 3, "labelPadding": 2, "domain": false, "labelColor": "#444444", "labelExpr": "datum.value < 15 ? 'lut' : (datum.value > 30 && datum.value < 35) ? 'mar' : (datum.value > 50 && datum.value < 55) ? 'kwi' : (datum.value > 70 && datum.value < 80) ? 'maj' : (datum.value > 90 && datum.value < 100) ? 'cze' : (datum.value > 115 && datum.value < 120) ? 'lip' : (datum.value > 140 && datum.value < 150) ? 'sie' : datum.value > 170 ? 'wrz' : '14'"}},
      "y": {"field": "v", "type": "quantitative", "scale": {"domain": [-10.8, 111.9], "nice": false, "zero": false}, "axis": {"orient": "right", "values": [30, 70], "format": "d", "labelExpr": "datum.value > 50 ? '' : datum.label", "grid": true, "gridColor": "#c8c8c8", "gridWidth": 1.5, "tickSize": 3, "labelPadding": 2}}
     }
    },
    {
     "data": {"values": [
      {"k": 0.32, "v": 95.9, "t": "RSI (14)"}
     ]},
     "mark": {"type": "text", "align": "left", "baseline": "middle", "fontSize": 8, "color": "#222222"},
     "encoding": {
      "x": {"field": "k", "type": "quantitative", "scale": {"domain": [-0.158, 182.78], "nice": false, "zero": false}, "axis": {"values": [11.37,21.48,31.44,41.39,53.4,62.9,75.36,85.0,96.37,106.3,118.3,127.8,143.4,156.7,174.4], "grid": true, "gridColor": "#ededed", "ticks": true, "tickSize": 3, "labelPadding": 2, "domain": false, "labelColor": "#444444", "labelExpr": "datum.value < 15 ? 'lut' : (datum.value > 30 && datum.value < 35) ? 'mar' : (datum.value > 50 && datum.value < 55) ? 'kwi' : (datum.value > 70 && datum.value < 80) ? 'maj' : (datum.value > 90 && datum.value < 100) ? 'cze' : (datum.value > 115 && datum.value < 120) ? 'lip' : (datum.value > 140 && datum.value < 150) ? 'sie' : datum.value > 170 ? 'wrz' : '14'"}},
      "y": {"field": "v", "type": "quantitative", "scale": {"domain": [-10.8, 111.9], "nice": false, "zero": false}, "axis": {"orient": "right", "values": [30, 70], "format": "d", "labelExpr": "datum.value > 50 ? '' : datum.label", "grid": true, "gridColor": "#c8c8c8", "gridWidth": 1.5, "tickSize": 3, "labelPadding": 2}},
      "text": {"field": "t"}
     }
    },
    {
     "data": {"values": [{"v": 61, "label": "61", "s": 182.86, "e": 184.6}]},
     "mark": {"type": "bar", "orient": "horizontal", "size": 10, "color": "#111111"},
     "encoding": {
      "x": {"field": "s", "type": "quantitative", "scale": {"domain": [-0.158, 182.78], "nice": false, "zero": false}, "axis": {"values": [11.37,21.48,31.44,41.39,53.4,62.9,75.36,85.0,96.37,106.3,118.3,127.8,143.4,156.7,174.4], "grid": true, "gridColor": "#ededed", "ticks": true, "tickSize": 3, "labelPadding": 2, "domain": false, "labelColor": "#444444", "labelExpr": "datum.value < 15 ? 'lut' : (datum.value > 30 && datum.value < 35) ? 'mar' : (datum.value > 50 && datum.value < 55) ? 'kwi' : (datum.value > 70 && datum.value < 80) ? 'maj' : (datum.value > 90 && datum.value < 100) ? 'cze' : (datum.value > 115 && datum.value < 120) ? 'lip' : (datum.value > 140 && datum.value < 150) ? 'sie' : datum.value > 170 ? 'wrz' : '14'"}},
      "x2": {"field": "e"},
      "y": {"field": "v", "type": "quantitative", "scale": {"domain": [-10.8, 111.9], "nice": false, "zero": false}, "axis": {"orient": "right", "values": [30, 70], "format": "d", "labelExpr": "datum.value > 50 ? '' : datum.label", "grid": true, "gridColor": "#c8c8c8", "gridWidth": 1.5, "tickSize": 3, "labelPadding": 2}}
     }
    },
    {
     "data": {"values": [{"v": 61, "label": "61", "s": 182.86}]},
     "mark": {"type": "text", "align": "left", "baseline": "middle", "fontSize": 8, "color": "#ffffff", "dx": 1.5},
     "encoding": {
      "x": {"field": "s", "type": "quantitative", "scale": {"domain": [-0.158, 182.78], "nice": false, "zero": false}, "axis": {"values": [11.37,21.48,31.44,41.39,53.4,62.9,75.36,85.0,96.37,106.3,118.3,127.8,143.4,156.7,174.4], "grid": true, "gridColor": "#ededed", "ticks": true, "tickSize": 3, "labelPadding": 2, "domain": false, "labelColor": "#444444", "labelExpr": "datum.value < 15 ? 'lut' : (datum.value > 30 && datum.value < 35) ? 'mar' : (datum.value > 50 && datum.value < 55) ? 'kwi' : (datum.value > 70 && datum.value < 80) ? 'maj' : (datum.value > 90 && datum.value < 100) ? 'cze' : (datum.value > 115 && datum.value < 120) ? 'lip' : (datum.value > 140 && datum.value < 150) ? 'sie' : datum.value > 170 ? 'wrz' : '14'"}},
      "y": {"field": "v", "type": "quantitative", "scale": {"domain": [-10.8, 111.9], "nice": false, "zero": false}, "axis": {"orient": "right", "values": [30, 70], "format": "d", "labelExpr": "datum.value > 50 ? '' : datum.label", "grid": true, "gridColor": "#c8c8c8", "gridWidth": 1.5, "tickSize": 3, "labelPadding": 2}},
      "text": {"field": "label"}
     }
    }
   ]
  }
 ]
}
